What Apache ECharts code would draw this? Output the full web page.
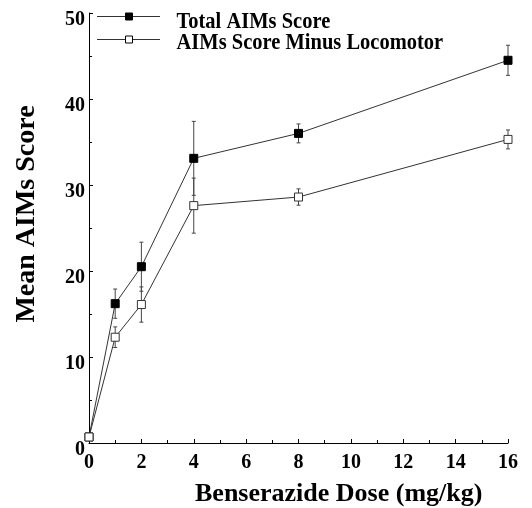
<!DOCTYPE html>
<html>
<head>
<meta charset="utf-8">
<script src="https://cdn.jsdelivr.net/npm/echarts@6/dist/echarts.min.js"></script>
<style>
  html, body { margin: 0; padding: 0; background: #fff; }
  #chart { width: 532px; height: 508px; }
</style>
</head>
<body>
<div id="chart"></div>
<script>
// Benserazide dose (mg/kg)
const doses = [0, 1, 2, 4, 8, 16];
// Mean AIMs scores with SEM
const totalMean = [0.7, 16.2, 20.5, 33.1, 36.0, 44.5];
const totalSem  = [0.3, 1.7, 2.85, 4.3, 1.1, 1.75];
const minusLocoMean = [0.7, 12.3, 16.1, 27.6, 28.6, 35.3];
const minusLocoSem  = [0.3, 1.2, 2.05, 3.2, 0.95, 1.1];
const seriesNames = ['Total AIMs Score', 'AIMs Score Minus Locomotor'];
const xTicks = [0, 2, 4, 6, 8, 10, 12, 14, 16];
const yTicks = [0, 10, 20, 30, 40, 50];
const xTitle = 'Benserazide Dose (mg/kg)';
const yTitle = 'Mean AIMs Score';

const serif = '"Liberation Serif", "Times New Roman", serif';

function pairs(xs, ys) { return xs.map((x, i) => [x, ys[i]]); }
function errData(xs, m, s) { return xs.map((x, i) => [x, m[i] - s[i], m[i] + s[i]]); }

// Vertical SEM bars with short caps
function errorBarSeries(data) {
  return {
    type: 'custom',
    silent: true,
    z: 1,
    renderItem: function (params, api) {
      const x = api.value(0);
      const lo = api.coord([x, api.value(1)]);
      const hi = api.coord([x, api.value(2)]);
      const w = 2;
      const st = { stroke: '#444', lineWidth: 1 };
      return {
        type: 'group',
        children: [
          { type: 'line', shape: { x1: lo[0], y1: lo[1], x2: hi[0], y2: hi[1] }, style: st },
          { type: 'line', shape: { x1: lo[0] - w, y1: lo[1], x2: lo[0] + w, y2: lo[1] }, style: st },
          { type: 'line', shape: { x1: hi[0] - w, y1: hi[1], x2: hi[0] + w, y2: hi[1] }, style: st }
        ]
      };
    },
    data: data
  };
}

// Key in the upper-left corner: line sample with a square, then the name
function legendRow(y, textY, name, fill) {
  return [
    { type: 'line', shape: { x1: 97, y1: y, x2: 160, y2: y }, style: { stroke: '#333', lineWidth: 1 }, z: 10 },
    { type: 'rect', shape: { x: 125.5, y: y - 3.5, width: 7, height: 7 }, style: { fill: fill, stroke: '#000', lineWidth: 1 }, z: 11 },
    {
      type: 'text', x: 176.5, y: textY, scaleY: 1.12, z: 11,
      style: { text: name, fontFamily: serif, fontWeight: 'bold', fontSize: 20.5, fill: '#000', align: 'left', verticalAlign: 'middle' }
    }
  ];
}

const chart = echarts.init(document.getElementById('chart'), null, { renderer: 'canvas' });
chart.setOption({
  animation: false,
  backgroundColor: '#fff',
  grid: { left: 89, right: 24, top: 13, bottom: 65, containLabel: false },
  graphic: [
    ...legendRow(16.5, 21.8, seriesNames[0], '#000'),
    ...legendRow(39.5, 42.8, seriesNames[1], '#fff'),
    {
      type: 'text',
      left: 195, top: 481,
      style: { text: xTitle, fontFamily: serif, fontWeight: 'bold', fontSize: 26, fill: '#000' }
    },
    {
      type: 'text',
      x: 27, y: 214,
      rotation: Math.PI / 2,
      style: {
        text: yTitle, fontFamily: serif, fontWeight: 'bold', fontSize: 28, fill: '#000',
        align: 'center', verticalAlign: 'middle'
      }
    }
  ],
  xAxis: {
    type: 'value',
    min: 0, max: 16, interval: 2,
    axisLine: { onZero: false, lineStyle: { color: '#000', width: 1 } },
    axisTick: { inside: true, length: 4, lineStyle: { color: '#000' } },
    minorTick: { show: true, splitNumber: 2, length: 3, lineStyle: { color: '#000' } },
    splitLine: { show: false },
    axisLabel: {
      fontFamily: serif, fontWeight: 'bold', fontSize: 20, color: '#000', margin: 10,
      formatter: function (v) { return xTicks.indexOf(v) >= 0 ? String(v) : ''; }
    }
  },
  yAxis: {
    type: 'value',
    min: 0, max: 50, interval: 10,
    axisLine: { onZero: false, lineStyle: { color: '#000', width: 1 } },
    axisTick: { inside: true, length: 4, lineStyle: { color: '#000' } },
    minorTick: { show: true, splitNumber: 2, length: 3, lineStyle: { color: '#000' } },
    splitLine: { show: false },
    axisLabel: {
      fontFamily: serif, fontWeight: 'bold', fontSize: 20, color: '#000', margin: 4,
      verticalAlign: 'top', lineHeight: 13,
      formatter: function (v) { return yTicks.indexOf(v) >= 0 ? String(v) : ''; }
    }
  },
  series: [
    errorBarSeries(errData(doses, totalMean, totalSem)),
    errorBarSeries(errData(doses, minusLocoMean, minusLocoSem)),
    {
      name: seriesNames[0],
      type: 'line',
      z: 3,
      data: pairs(doses, totalMean),
      symbol: 'rect',
      symbolSize: 8,
      lineStyle: { color: '#333', width: 1 },
      itemStyle: { color: '#000', borderColor: '#000', borderWidth: 1 }
    },
    {
      name: seriesNames[1],
      type: 'line',
      z: 3,
      data: pairs(doses, minusLocoMean),
      symbol: 'rect',
      symbolSize: 8,
      lineStyle: { color: '#333', width: 1 },
      itemStyle: { color: '#fff', borderColor: '#333', borderWidth: 1 }
    }
  ]
});
</script>
</body>
</html>
